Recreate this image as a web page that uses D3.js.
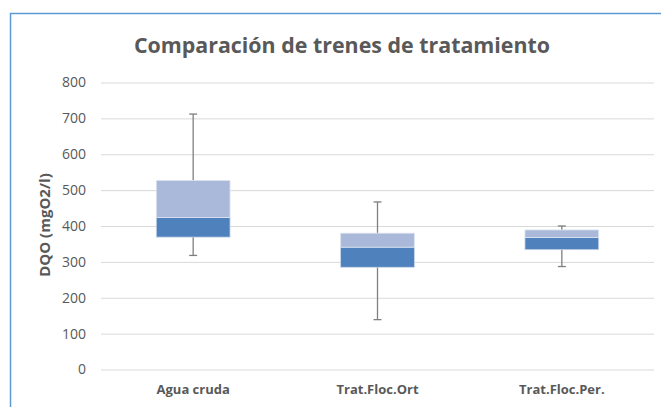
<!DOCTYPE html>
<html>
<head>
<meta charset="utf-8">
<script src="https://cdn.jsdelivr.net/npm/d3@7"></script>
<style>
  body { margin: 0; background: #fff; }
  text { font-family: "Open Sans", "Noto Sans", sans-serif; }
</style>
</head>
<body>
<div id="chart"></div>
<script>
// Box chart: DQO per treatment train

var categories = ["Agua cruda", "Trat.Floc.Ort", "Trat.Floc.Per."]
var minValues    = [318, 139, 287]
var q1Values     = [369, 285, 334]
var medianValues = [424, 341, 368]
var q3Values     = [527, 380, 389]
var maxValues    = [712, 467, 400]
var yTicks = [0, 100, 200, 300, 400, 500, 600, 700, 800]

var width = 661, height = 407
var margin = {top: 82.5, right: 7, bottom: 37.5, left: 101}

var x = d3.scaleBand()
    .domain(categories)
    .range([margin.left, width - margin.right])

var y = d3.scaleLinear()
    .domain([0, 800])
    .range([height - margin.bottom, margin.top])

var boxW = x.bandwidth() * 0.4

const svg = d3.select('#chart')
  .append('svg')
    .attr('width', width)
    .attr('height', height)

// frame
svg.append('rect')
    .attr('x', 10.5)
    .attr('y', 13.5)
    .attr('width', width + 10)
    .attr('height', height + 10)
    .attr('fill', 'none')
    .attr('stroke', '#5b9bd5')
    .attr('stroke-width', 1.5)

svg.append('text')
    .attr('x', 342)
    .attr('y', 53)
    .attr('text-anchor', 'middle')
    .attr('font-size', 21.4)
    .attr('font-weight', 'bold')
    .attr('fill', '#595959')
    .text('Comparación de trenes de tratamiento')

// grid
svg.append('g')
    .attr('transform', 'translate(' + margin.left + ',0)')
    .call(d3.axisLeft(y).tickValues(yTicks).tickSize(-(width - margin.right - margin.left)).tickPadding(15))
    .call(g => g.select('.domain').remove())
    .call(g => g.selectAll('.tick line').attr('stroke', '#d9d9d9').attr('stroke-width', 1))
    .call(g => g.selectAll('.tick text')
        .attr('fill', '#595959')
        .attr('font-size', 14)
        .style('font-family', '"Open Sans", sans-serif'))

svg.append('text')
    .attr('transform', 'translate(50,' + 225 + ') rotate(-90)')
    .attr('text-anchor', 'middle')
    .attr('font-size', 15)
    .attr('font-weight', 'bold')
    .attr('fill', '#595959')
    .text('DQO (mgO2/l)')

// x labels
svg.append('g')
    .attr('transform', 'translate(0,' + (height - margin.bottom) + ')')
    .call(d3.axisBottom(x).tickSize(0).tickPadding(15))
    .call(g => g.select('.domain').remove())
    .call(g => g.selectAll('.tick text')
        .attr('fill', '#595959')
        .attr('font-size', 13)
        .attr('font-weight', 'bold')
        .style('font-family', '"Open Sans", sans-serif'))

const boxes = svg.append('g')
  .selectAll('g')
  .data(categories)
  .join('g')

var cx = d => x(d) + x.bandwidth() / 2

// whiskers
boxes.append('line')
    .attr('x1', cx).attr('x2', cx)
    .attr('y1', (d, i) => y(maxValues[i]))
    .attr('y2', (d, i) => y(minValues[i]))
    .attr('stroke', '#7f7f7f')
    .attr('stroke-width', 1.3)

boxes.selectAll('.cap')
  .data((d, i) => [maxValues[i], minValues[i]].map(v => ({c: d, v: v})))
  .join('line')
    .attr('class', 'cap')
    .attr('x1', d => cx(d.c) - 4)
    .attr('x2', d => cx(d.c) + 4)
    .attr('y1', d => y(d.v))
    .attr('y2', d => y(d.v))
    .attr('stroke', '#7f7f7f')
    .attr('stroke-width', 1.3)

// lower part q1 -> median
boxes.append('rect')
    .attr('x', d => cx(d) - boxW / 2)
    .attr('width', boxW)
    .attr('y', (d, i) => y(medianValues[i]))
    .attr('height', (d, i) => y(q1Values[i]) - y(medianValues[i]))
    .attr('fill', '#4f81bd')
    .attr('stroke', '#c9d6ea')
    .attr('stroke-width', 0.8)

// upper part median -> q3
boxes.append('rect')
    .attr('x', d => cx(d) - boxW / 2)
    .attr('width', boxW)
    .attr('y', (d, i) => y(q3Values[i]))
    .attr('height', (d, i) => y(medianValues[i]) - y(q3Values[i]))
    .attr('fill', '#aab9d9')
    .attr('stroke', '#dde4f1')
    .attr('stroke-width', 0.8)
</script>
</body>
</html>
